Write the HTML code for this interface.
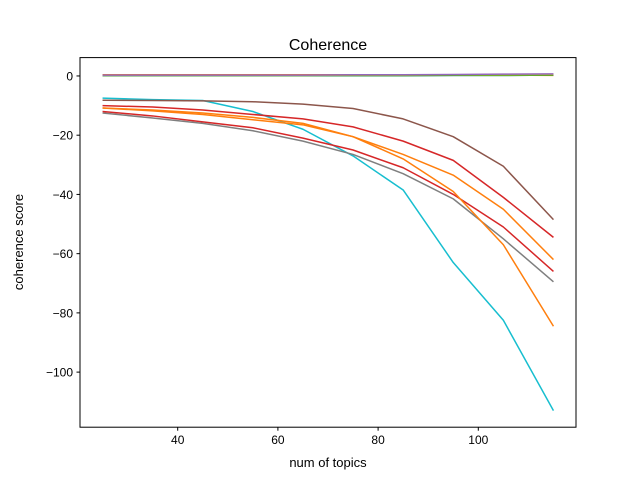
<!DOCTYPE html>
<html><head><meta charset="utf-8"><style>
body{margin:0;background:#fff}
svg text{font-family:"Liberation Sans","DejaVu Sans",sans-serif;fill:#000}
</style></head><body>
<svg id="chart" width="640" height="480">
<rect width="640" height="480" fill="#fff"/>
<text x="328" y="50" font-size="16" text-anchor="middle">Coherence</text>
<text x="328" y="467" font-size="13" text-anchor="middle">num of topics</text>
<text transform="translate(23,242) rotate(-90)" font-size="13" text-anchor="middle">coherence score</text>
<g id="ticks"></g>
<g id="lines"></g>
<rect x="80" y="57.6" width="496" height="369.6" fill="none" stroke="#000" stroke-width="1"/>
</svg>
<script>
const topics=[25,35,45,55,65,75,85,95,105,115];
const xTicks=[40,60,80,100];
const yTicks=[0,-20,-40,-60,-80,-100];
const sBlue=[0.1,0.1,0.1,0.1,0.1,0.1,0.1,0.2,0.2,0.3];
const sOrange0=[0.4,0.4,0.4,0.4,0.4,0.4,0.4,0.4,0.3,0.2];
const sGreen=[0.1,0.1,0.1,0.1,0.1,0.1,0.1,0.2,0.2,0.3];
const sOlive=[0.2,0.2,0.2,0.2,0.2,0.3,0.3,0.4,0.4,0.5];
const sPurple=[0.3,0.3,0.3,0.3,0.3,0.4,0.4,0.5,0.6,0.7];
const sCyan=[-7.5,-8,-8.3,-12,-18,-27,-38.5,-63,-82.5,-113];
const sBrown=[-8.2,-8.3,-8.4,-8.7,-9.5,-11,-14.5,-20.5,-30.5,-48.5];
const sRed1=[-10,-10.5,-11.5,-13,-14.5,-17.2,-22,-28.5,-41,-54.5];
const sOrange1=[-10.8,-11.5,-12.5,-14,-16,-20.5,-26.5,-33.5,-45,-62];
const sOrange2=[-10.8,-11.8,-13,-14.8,-16.5,-20.5,-28,-39,-57,-84.5];
const sRed2=[-12,-13.5,-15.5,-17.5,-21,-25,-31,-40,-51,-66];
const sGray=[-12.5,-14.2,-16,-18.5,-22,-26.5,-33,-41.5,-55,-69.5];
const series=[
 ['series-cyan',sCyan,'#17becf'],['series-gray',sGray,'#7f7f7f'],['series-red-2',sRed2,'#d62728'],
 ['series-orange-2',sOrange2,'#ff7f0e'],['series-orange-1',sOrange1,'#ff7f0e'],['series-red-1',sRed1,'#d62728'],
 ['series-brown',sBrown,'#8c564b'],['series-blue',sBlue,'#1f77b4'],['series-orange-0',sOrange0,'#ff7f0e'],
 ['series-green',sGreen,'#2ca02c'],['series-olive',sOlive,'#bcbd22'],['series-purple',sPurple,'#9467bd']];
const X0=20.5,X1=119.5,Y0=-118.6,Y1=6.2;
const L=80,R=576,T=57.6,B=427.2;
const xs=v=>L+(v-X0)/(X1-X0)*(R-L);
const ys=v=>B-(v-Y0)/(Y1-Y0)*(B-T);
const NS='http://www.w3.org/2000/svg';
const tg=document.getElementById('ticks'),lg=document.getElementById('lines');
function mk(t,a,p){const e=document.createElementNS(NS,t);for(const k in a)e.setAttribute(k,a[k]);p.appendChild(e);return e;}
xTicks.forEach(v=>{
 const l=mk('line',{x1:xs(v),x2:xs(v),y1:B,y2:B+3.5,stroke:'#000'},tg);
 
 
 const t=mk('text',{x:xs(v),y:B+17,'font-size':12,'text-anchor':'middle'},tg);t.textContent=v;
 
 
});
yTicks.forEach(v=>{
 const l=mk('line',{x1:L-3.5,x2:L,y1:ys(v),y2:ys(v),stroke:'#000'},tg);
 
 
 const t=mk('text',{x:L-7,y:ys(v)+4.5,'font-size':12,'text-anchor':'end'},tg);t.textContent=v===0?'0':'\u2212'+Math.abs(v);
 
 
});
series.forEach(([n,d,c])=>{
 const p=mk('polyline',{points:d.map((v,i)=>xs(topics[i])+','+ys(v)).join(' '),fill:'none',stroke:c,'stroke-width':1.5,'stroke-linejoin':'round'},lg);
 
 
});
</script>
</body></html>
